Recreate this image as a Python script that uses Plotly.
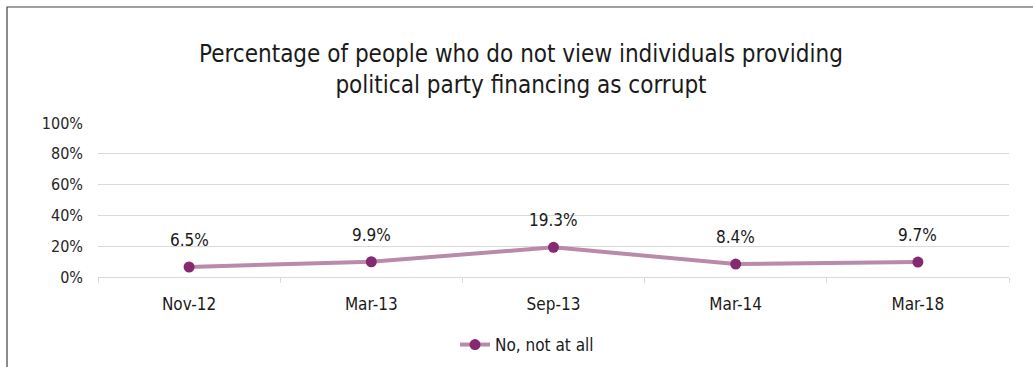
import plotly.graph_objects as go

# Survey waves and share answering "No, not at all"
periods = ["Nov-12", "Mar-13", "Sep-13", "Mar-14", "Mar-18"]
no_not_at_all = [6.5, 9.9, 19.3, 8.4, 9.7]
series_name = "No, not at all"
y_ticks = [0, 20, 40, 60, 80, 100]
y_tick_labels = ["0%", "20%", "40%", "60%", "80%", "100%"]

FONT = "Liberation Sans Narrow, Arial Narrow, DejaVu Sans Condensed, sans-serif"
W, H = 1033, 367
L, R, T, B = 98, 24, 123, 90

fig = go.Figure()
fig.add_trace(go.Scatter(
    x=periods,
    y=no_not_at_all,
    mode="lines+markers",
    name=series_name,
    line=dict(color="#b98aa9", width=4),
    marker=dict(color="#862a6f", size=11),
    cliponaxis=False,
))

# Value labels above each point
for p, v in zip(periods, no_not_at_all):
    fig.add_annotation(
        x=p, y=v, text=f"{v}%", showarrow=False,
        yshift=27, font=dict(family=FONT, size=17, color="#1a1a1a"),
    )

# Outer chart border (runs off the right and bottom edges)
pw, ph = W - L - R, H - T - B
fig.add_shape(
    type="rect", xref="paper", yref="paper",
    x0=(7 - L) / pw, x1=(W + 5 - L) / pw,
    y0=-(H + 5 - T - ph) / ph, y1=(H - 7 - B) / ph,
    line=dict(color="#404040", width=1.2), fillcolor="rgba(0,0,0,0)",
)

fig.update_layout(
    width=W, height=H,
    margin=dict(l=L, r=R, t=T, b=B, autoexpand=False),
    paper_bgcolor="white", plot_bgcolor="white",
    font=dict(family=FONT, size=16, color="#262626"),
    title=dict(
        text="Percentage of people who do not view individuals providing<br>political party financing as corrupt",
        x=(521 / W), xanchor="center", y=1 - 62 / H, yanchor="middle",
        font=dict(family=FONT, size=24, color="#1a1a1a"),
    ),
    showlegend=True,
    legend=dict(
        orientation="h", xref="container", x=527 / W, xanchor="center",
        yref="container", y=1 - 345 / H, yanchor="middle",
        font=dict(family=FONT, size=17, color="#1a1a1a"),
        bgcolor="rgba(0,0,0,0)",
    ),
    xaxis=dict(
        type="category", tickson="boundaries", ticks="outside", ticklen=5,
        tickcolor="#d9d9d9", showline=True, linecolor="#d9d9d9", linewidth=1,
        showgrid=False, tickfont=dict(family=FONT, size=17, color="#1a1a1a"),
        ticklabelstandoff=12, range=[-0.5, 4.5],
    ),
    yaxis=dict(
        range=[0, 100], tickvals=y_ticks, ticktext=y_tick_labels,
        showgrid=True, gridcolor="#d9d9d9", gridwidth=1, zeroline=False,
        showline=False, ticks="", ticklabelstandoff=14,
        tickfont=dict(family=FONT, size=16, color="#262626"),
    ),
)

fig.write_html("out.html")
